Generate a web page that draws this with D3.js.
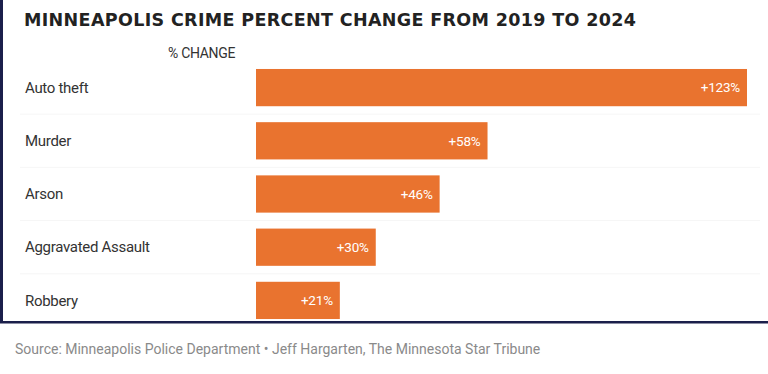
<!DOCTYPE html>
<html>
<head>
    <title>Minneapolis crime percent change</title>
    <style>
        body { margin: 0; background: #fff; }
        #chart { width: 768px; height: 374px; }
        .cat { font-family: Roboto, "Open Sans", sans-serif; font-size: 15px; fill: #333; letter-spacing: -0.3px; }
        .val { font-family: Roboto, "Open Sans", sans-serif; font-size: 13.5px; fill: #fff; letter-spacing: -0.2px; }
    </style>
</head>
<body>
    <div id="chart"></div>
    <script src="https://d3js.org/d3.v7.min.js"></script>
    <script>
        // data
        var categories = ["Auto theft", "Murder", "Arson", "Aggravated Assault", "Robbery"];
        var changes = [123, 58, 46, 30, 21];
        var valueLabels = ["+123%", "+58%", "+46%", "+30%", "+21%"];

        var width = 768, height = 374;
        var svg = d3.select("#chart").append("svg")
            .attr("width", width)
            .attr("height", height);

        var x = d3.scaleLinear().domain([0, 123]).range([256, 747]);
        var y = d3.scaleBand().domain(categories).range([61, 327]).paddingInner(0.3).paddingOuter(0.15);

        // frame
        svg.append("rect").attr("x", 0).attr("y", 0).attr("width", 3).attr("height", 323).attr("fill", "#1b1f4b");
        svg.append("rect").attr("x", 0).attr("y", 321).attr("width", width).attr("height", 2.5).attr("fill", "#1b1f4b");

        // title
        svg.append("text")
            .attr("x", 24).attr("y", 26)
            .attr("textLength", 612).attr("lengthAdjust", "spacing")
            .style("font-family", "'DejaVu Sans', sans-serif")
            .style("font-weight", "bold")
            .style("font-size", "17.5px")
            .style("fill", "#222")
            .text("MINNEAPOLIS CRIME PERCENT CHANGE FROM 2019 TO 2024");

        svg.append("text")
            .attr("x", 168).attr("y", 58)
            .attr("class", "cat")
            .style("font-size", "14px")
            .text("% CHANGE");

        // faint row separators
        svg.selectAll(".sep")
            .data(categories.slice(1))
            .enter().append("line")
            .attr("x1", 20).attr("x2", 760)
            .attr("y1", function (d) { return y(d) - y.step() * y.paddingInner() / 2; })
            .attr("y2", function (d) { return y(d) - y.step() * y.paddingInner() / 2; })
            .attr("stroke", "#f6f6f6").attr("stroke-width", 1);

        svg.selectAll(".bar")
            .data(changes)
            .enter().append("rect")
            .attr("x", x(0))
            .attr("y", function (d, i) { return y(categories[i]); })
            .attr("width", function (d) { return x(d) - x(0); })
            .attr("height", y.bandwidth())
            .attr("fill", "#e9732f");

        svg.selectAll(".cat-label")
            .data(categories)
            .enter().append("text")
            .attr("class", "cat")
            .attr("x", 25)
            .attr("y", function (d) { return y(d) + y.bandwidth() / 2; })
            .attr("dy", "0.35em")
            .text(function (d) { return d; });

        svg.selectAll(".val-label")
            .data(changes)
            .enter().append("text")
            .attr("class", "val")
            .attr("x", function (d) { return x(d) - 7; })
            .attr("y", function (d, i) { return y(categories[i]) + y.bandwidth() / 2; })
            .attr("dy", "0.35em")
            .attr("text-anchor", "end")
            .text(function (d, i) { return valueLabels[i]; });

        svg.append("text")
            .attr("x", 15).attr("y", 354)
            .style("font-family", "Roboto, 'Open Sans', sans-serif")
            .style("font-size", "14px")
            .style("fill", "#8a8a8a")
            .text("Source: Minneapolis Police Department \u2022 Jeff Hargarten, The Minnesota Star Tribune");
    </script>
</body>
</html>
